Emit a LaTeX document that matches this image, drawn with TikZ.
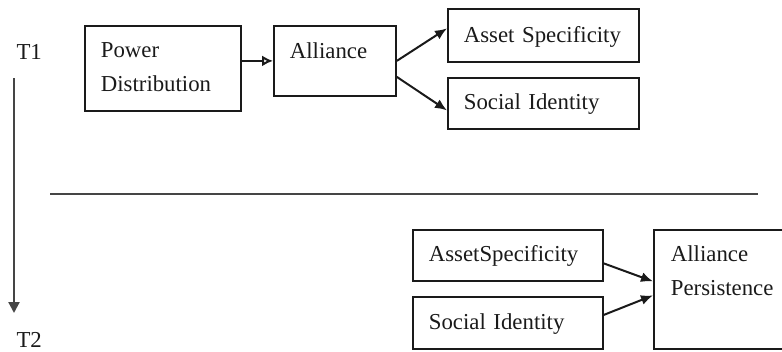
\documentclass[tikz,border=0pt]{standalone}
\usepackage{fontspec}
\setmainfont{Liberation Serif}
\usepackage{xcolor}
\usepackage{tikz}
\usetikzlibrary{arrows.meta}
\definecolor{FigInk}{HTML}{1A1A1A}
\definecolor{FigRule}{HTML}{454545}
\tikzset{
  factor/.style={draw=FigInk,line width=1.8pt,anchor=north west,align=left,inner xsep=16pt,inner ysep=0pt,text height=32pt,text=FigInk,font=\fontsize{22.8}{34}\selectfont},
  link/.style={draw=FigInk,line width=2pt,-{Latex[length=12pt,width=10pt]}},
  stamp/.style={anchor=base west,text=FigInk,font=\fontsize{22.8}{26}\selectfont}
}

\begin{document}
\begin{tikzpicture}[x=1pt,y=-1pt]
\path[use as bounding box] (0,0) rectangle (782,351);
\node[stamp] (t1) at (13,59) {T1};
\node[stamp] (t2) at (13,347) {T2};
\coordinate (tstart) at (14,78);
\coordinate (tend) at (14,313);
\draw[FigRule,line width=2.2pt,-{Triangle[length=11pt,width=11pt]}] (tstart) -- (tend);
\coordinate (rulel) at (50,194);
\coordinate (ruler) at (758,194);
\draw[FigRule,line width=2.2pt] (rulel) -- (ruler);
\node[factor,text width=124pt,text depth=53pt] (pd) at (84,25) {Power\\Distribution};
\node[factor,text width=90pt,text height=33pt,text depth=37pt] (al) at (273,25) {Alliance};
\node[factor,text width=159pt,text height=34pt,text depth=19pt] (as1) at (447,8) {Asset Specificity};
\node[factor,text width=159pt,text depth=19pt] (si1) at (447,77) {Social Identity};
\node[factor,text width=158pt,text depth=19pt] (as2) at (412,229) {AssetSpecificity};
\node[factor,text width=158pt,text height=33pt,text depth=19pt] (si2) at (412,296) {Social Identity};
\node[factor,text width=100pt,inner xsep=17pt,text depth=87pt] (ap) at (653,229) {Alliance\\Persistence};
\draw[link,-{Latex[open,length=11pt,width=11pt]}] (pd.east |- al.west) -- (al.west);
\draw[link] (al.east) -- ([yshift=7pt]as1.west);
\draw[link] ([yshift=-16pt]al.east) -- ([yshift=-7pt]si1.west);
\draw[link] ([yshift=-8pt]as2.east) -- ([yshift=8pt]ap.west);
\draw[link] ([yshift=8pt]si2.east) -- ([yshift=-6pt]ap.west);
\end{tikzpicture}
\end{document}
